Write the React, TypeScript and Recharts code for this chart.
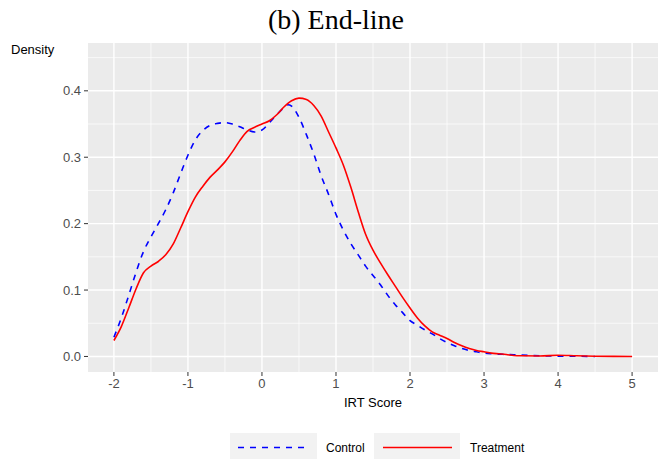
import { CartesianGrid, Label, Line, LineChart, XAxis, YAxis } from "recharts"

// IRT score grid shared by both density curves
const scores = [
  -2.0, -1.9, -1.8, -1.7, -1.6, -1.5, -1.4, -1.3, -1.2, -1.1,
  -1.0, -0.9, -0.8, -0.7, -0.6, -0.5, -0.4, -0.3, -0.2, -0.1,
  0.0, 0.1, 0.2, 0.3, 0.35, 0.4, 0.5, 0.6, 0.7, 0.8, 0.9,
  1.0, 1.1, 1.2, 1.3, 1.4, 1.5, 1.6, 1.7, 1.8, 1.9,
  2.0, 2.1, 2.2, 2.3, 2.4, 2.5, 2.6, 2.7, 2.8, 2.9,
  3.0, 3.1, 3.2, 3.3, 3.4, 3.5, 3.75, 4.0, 4.25, 4.5, 4.75, 5.0,
]

const controlDensity = [
  0.029, 0.058, 0.092, 0.127, 0.158, 0.18, 0.2, 0.221, 0.246, 0.275,
  0.303, 0.326, 0.34, 0.348, 0.351, 0.352, 0.35, 0.346, 0.341, 0.338,
  0.341, 0.352, 0.364, 0.375, 0.379, 0.377, 0.36, 0.334, 0.305, 0.272, 0.244,
  0.214, 0.19, 0.17, 0.153, 0.136, 0.122, 0.108, 0.092, 0.078, 0.066,
  0.054, 0.047, 0.04, 0.034, 0.027, 0.021, 0.016, 0.012, 0.009, 0.007,
  0.005, 0.004, 0.0035, 0.003, 0.0025, 0.002, 0.001, 0.0005, 0.0003, 0.0, null, null,
]

const treatmentDensity = [
  0.024, 0.045, 0.073, 0.102, 0.126, 0.136, 0.143, 0.153, 0.169, 0.193,
  0.218, 0.24, 0.256, 0.27, 0.281, 0.293, 0.308, 0.325, 0.339, 0.345,
  0.35, 0.355, 0.364, 0.376, 0.381, 0.385, 0.389, 0.387, 0.378, 0.362, 0.338,
  0.314, 0.288, 0.255, 0.218, 0.184, 0.16, 0.141, 0.123, 0.106, 0.089,
  0.073, 0.058, 0.046, 0.037, 0.032, 0.027, 0.021, 0.016, 0.012, 0.009,
  0.007, 0.005, 0.004, 0.003, 0.0015, 0.001, 0.0008, 0.0018, 0.001, 0.0004, 0.0001, 0.0,
]

const xTicks = [-2, -1, 0, 1, 2, 3, 4, 5]
const xMinor = [-1.5, -0.5, 0.5, 1.5, 2.5, 3.5, 4.5]
const yTicks = [0, 0.1, 0.2, 0.3, 0.4]
const yMinor = [0.05, 0.15, 0.25, 0.35, 0.45]

const data = scores.map((score, i) => ({
  score,
  control: controlDensity[i],
  treatment: treatmentDensity[i],
}))

const sans = "'Liberation Sans', Arial, sans-serif"
const tickStyle = { fill: "#4D4D4D", fontSize: 13, fontFamily: sans }

export default function App() {
  return (
    <div style={{ position: "absolute", left: 0, top: 0, width: 668, height: 459, background: "#fff", fontFamily: sans }}>
      <LineChart width={668} height={459} data={data} margin={{ top: 43, right: 10, bottom: 47, left: 0 }}>
        <CartesianGrid
          fill="#EBEBEB"
          stroke="#FFFFFF"
          strokeWidth={0.7}
          verticalValues={xMinor}
          horizontalValues={yMinor}
        />
        <CartesianGrid stroke="#FFFFFF" strokeWidth={1.4} verticalValues={xTicks} horizontalValues={yTicks} />
        <XAxis
          type="number"
          dataKey="score"
          domain={[-2.35, 5.35]}
          ticks={xTicks}
          allowDataOverflow
          axisLine={false}
          tickLine={{ stroke: "#333333" }}
          tickSize={4}
          tickMargin={3}
          height={40}
          tick={tickStyle}
        >
          <Label value="IRT Score" position="insideBottom" offset={5} fill="#000" fontSize={13} fontFamily={sans} />
        </XAxis>
        <YAxis
          type="number"
          domain={[-0.0234, 0.472]}
          ticks={yTicks}
          allowDataOverflow
          width={88}
          axisLine={false}
          tickLine={{ stroke: "#333333" }}
          tickSize={4}
          tickMargin={3}
          tick={tickStyle}
          tickFormatter={(v: number) => v.toFixed(1)}
        >
          <Label
            content={() => (
              <text x={11} y={54} fill="#000" fontSize={13} fontFamily={sans}>
                Density
              </text>
            )}
          />
        </YAxis>
        <Line
          type="monotone"
          dataKey="control"
          stroke="#0000FF"
          strokeWidth={1.6}
          strokeDasharray="6 6"
          dot={false}
          isAnimationActive={false}
        />
        <Line
          type="monotone"
          dataKey="treatment"
          stroke="#FF0000"
          strokeWidth={1.6}
          dot={false}
          isAnimationActive={false}
        />
      </LineChart>
      <svg width={668} height={459} style={{ position: "absolute", left: 0, top: 0, pointerEvents: "none" }}>
        <text x={336} y={29} textAnchor="middle" fontSize={28} fontFamily="'Liberation Serif', 'Times New Roman', serif" fill="#000">
          (b) End-line
        </text>
        <rect x={230} y={433} width={87} height={26} fill="#F2F2F2" />
        <line x1={238} x2={307} y1={447.5} y2={447.5} stroke="#0000FF" strokeWidth={1.6} strokeDasharray="6 6" />
        <text x={326} y={452} fontSize={12} fontFamily={sans} fill="#000">Control</text>
        <rect x={374} y={433} width={86} height={26} fill="#F2F2F2" />
        <line x1={383} x2={452} y1={447.5} y2={447.5} stroke="#FF0000" strokeWidth={1.6} />
        <text x={470} y={452} fontSize={12} fontFamily={sans} fill="#000">Treatment</text>
      </svg>
    </div>
  )
}
